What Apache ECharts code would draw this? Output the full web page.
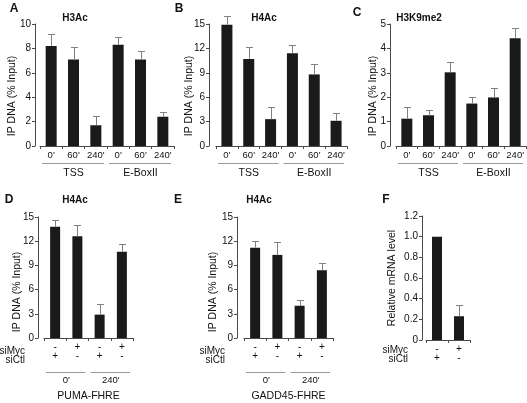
<!DOCTYPE html>
<html><head><meta charset="utf-8">
<script src="https://cdn.jsdelivr.net/npm/echarts@6/dist/echarts.min.js"></script>
<style>html,body{margin:0;padding:0;background:#fff}#c{width:527px;height:403px}</style>
</head><body><div id="c"></div>
<script>
// ---------- data ----------
const timeCats = ["0'", "60'", "240'", "0'", "60'", "240'"];
const siteGroups = ['TSS', 'E-BoxII'];
const h3acVals = [8.2, 7.1, 1.7, 8.3, 7.1, 2.4];
const h3acErr  = [1.0, 1.0, 0.8, 0.6, 0.65, 0.35];
const h4acVals = [14.9, 10.7, 3.3, 11.4, 8.8, 3.1];
const h4acErr  = [1.1, 1.5, 1.5, 1.0, 1.3, 1.0];
const h3k9Vals = [1.12, 1.26, 3.02, 1.74, 1.99, 4.42];
const h3k9Err  = [0.48, 0.22, 0.42, 0.27, 0.38, 0.42];
const siMycSigns = ['-', '+', '-', '+'];
const siCtlSigns = ['+', '-', '+', '-'];
const timeGroups = ["0'", "240'"];
const pumaVals = [13.8, 12.6, 2.9, 10.7];
const pumaErr  = [0.85, 1.45, 1.3, 0.95];
const gaddVals = [11.2, 10.3, 4.0, 8.4];
const gaddErr  = [0.85, 1.55, 0.75, 0.95];
const mrnaSiMyc = ['-', '+'];
const mrnaSiCtl = ['+', '-'];
const mrnaVals = [1.0, 0.23];
const mrnaErr  = [0, 0.11];

// ---------- styles / layout ----------
const FONT = '"Liberation Sans", Arial, Helvetica, sans-serif';
const INK = '#1a1a1a';
const TXT = '#111';
const AXIS = '#4a4a4a';
const ERR = '#808080';
const ULINE = '#9a9a9a';

const panels = [
  {letter:'A', title:'H3Ac', yName:'IP DNA (% Input)', kind:'time', cats:timeCats, groups:siteGroups, vals:h3acVals, errs:h3acErr, max:10, interval:2,
   L:{left:40, top:24, width:134, height:122, yOffset:5, barWidth:11, letter:[14,9], title:[75,18], yNameXY:[12,96], uline:17}},
  {letter:'B', title:'H4Ac', yName:'IP DNA (% Input)', kind:'time', cats:timeCats, groups:siteGroups, vals:h4acVals, errs:h4acErr, max:15, interval:3,
   L:{left:216, top:24, width:131, height:122, yOffset:7, barWidth:11, letter:[179,9], title:[264,18], yNameXY:[189,96], uline:17}},
  {letter:'C', title:'H3K9me2', yName:'IP DNA (% Input)', kind:'time', cats:timeCats, groups:siteGroups, vals:h3k9Vals, errs:h3k9Err, max:5, interval:1,
   L:{left:396, top:24, width:130, height:122, yOffset:6, barWidth:11, letter:[357,13], title:[419,18], yNameXY:[373,96], uline:17}},
  {letter:'D', title:'H4Ac', yName:'IP DNA (% Input)', kind:'si', top:siMycSigns, bottom:siCtlSigns, groups:timeGroups, name:'PUMA-FHRE', vals:pumaVals, errs:pumaErr, max:15, interval:3,
   L:{left:44, top:217, width:89, height:124, yOffset:6, barWidth:10, letter:[9,200], title:[75,200], yNameXY:[17,292], uline:31, siX:25}},
  {letter:'E', title:'H4Ac', yName:'IP DNA (% Input)', kind:'si', top:siMycSigns, bottom:siCtlSigns, groups:timeGroups, name:'GADD45-FHRE', vals:gaddVals, errs:gaddErr, max:15, interval:3,
   L:{left:244, top:217, width:89, height:124, yOffset:7, barWidth:10, letter:[178,200], title:[259,200], yNameXY:[213,292], uline:31, siX:225}},
  {letter:'F', title:'', yName:'Relative mRNA level', kind:'si', top:mrnaSiMyc, bottom:mrnaSiCtl, groups:null, name:null, vals:mrnaVals, errs:mrnaErr, max:1.2, interval:0.2,
   L:{left:426, top:216, width:44, height:124, yOffset:4, barWidth:10, letter:[386,200], title:[0,0], yNameXY:[392,278], uline:0, siX:408}}
];

function errRender(params, api) {
  const x = api.value(0), v = api.value(1), e = api.value(2);
  const p0 = api.coord([x, v]);
  const p1 = api.coord([x, v + e]);
  const half = 3.5;
  const cx = Math.round(p0[0]) + 0.5;
  const ty = Math.round(p1[1]) + 0.5;
  return {type:'group', children:[
    {type:'line', shape:{x1:cx, y1:p0[1], x2:cx, y2:ty}, style:{stroke:ERR, lineWidth:1}},
    {type:'line', shape:{x1:cx-half, y1:ty, x2:cx+half, y2:ty}, style:{stroke:ERR, lineWidth:1}}
  ]};
}

const grid = [], xAxis = [], yAxis = [], series = [], graphic = [];
panels.forEach((p, i) => {
  const L = p.L;
  grid.push({left:L.left, top:L.top, width:L.width, height:L.height, containLabel:false});
  const mainIdx = xAxis.length;
  const labels = p.kind === 'time' ? p.cats : p.top.map((s, k) => s + '\n' + p.bottom[k]);
  xAxis.push({
    gridIndex:i, type:'category', data:labels, position:'bottom',
    axisLine:{show:true, lineStyle:{color:AXIS, width:1}},
    axisTick:{show:true, length:3, lineStyle:{color:AXIS}},
    axisLabel:{interval:0, margin: p.kind === 'time' ? 4 : 5, fontSize: p.kind === 'time' ? 9.5 : 10,
      lineHeight: p.kind === 'time' ? 10 : 9, color:TXT, fontFamily:FONT},
    splitLine:{show:false}
  });
  if (p.groups) {
    const ax = {
      gridIndex:i, type:'category', data:p.groups, position:'bottom',
      offset: p.kind === 'time' ? 18 : 33,
      axisLine:{show:false}, axisTick:{show:false},
      axisLabel:{interval:0, margin:4, fontSize: p.kind === 'time' ? 10.5 : 9.5, color:TXT, fontFamily:FONT},
      splitLine:{show:false}
    };
    if (p.name) {
      ax.name = p.name; ax.nameLocation = 'middle'; ax.nameGap = 20;
      ax.nameTextStyle = {fontSize:10.5, color:TXT, fontFamily:FONT};
    }
    xAxis.push(ax);
    // group underlines
    const n = p.groups.length, bw = L.width / n, y = L.top + L.height + L.uline + 0.5;
    for (let g = 0; g < n; g++) {
      graphic.push({type:'line', silent:true,
        shape:{x1:L.left + g*bw + 2, y1:y, x2:L.left + (g+1)*bw - 3, y2:y},
        style:{stroke:ULINE, lineWidth:1}});
    }
  }
  yAxis.push({
    gridIndex:i, type:'value', min:0, max:p.max, interval:p.interval, offset:L.yOffset,
    axisLine:{show:true, lineStyle:{color:AXIS, width:1}},
    axisTick:{show:true, length:3, lineStyle:{color:AXIS}},
    axisLabel:{margin:4, fontSize:10, color:TXT, fontFamily:FONT,
      formatter: v => (p.interval < 1 ? (v === 0 ? '0' : v.toFixed(1)) : String(v))},
    splitLine:{show:false}
  });
  series.push({type:'bar', xAxisIndex:mainIdx, yAxisIndex:i, data:p.vals, barWidth:L.barWidth,
    itemStyle:{color:INK}, silent:true, animation:false});
  series.push({type:'custom', xAxisIndex:mainIdx, yAxisIndex:i, clip:false, z:5, silent:true, animation:false,
    data:p.vals.map((v, k) => [k, v, p.errs[k]]).filter(d => d[2] > 0),
    encode:{x:0, y:1}, renderItem:errRender});

  // texts
  graphic.push({type:'text', x:L.letter[0], y:L.letter[1], silent:true,
    style:{text:p.letter, font:'bold 12px ' + FONT, fill:'#111', align:'center', verticalAlign:'middle'}});
  if (p.title) graphic.push({type:'text', x:L.title[0], y:L.title[1], silent:true,
    style:{text:p.title, font:'bold 10px ' + FONT, fill:'#111', align:'center', verticalAlign:'middle'}});
  graphic.push({type:'text', x:L.yNameXY[0], y:L.yNameXY[1], rotation:Math.PI/2, silent:true,
    style:{text:p.yName, font:'10.5px ' + FONT, fill:TXT, align:'center', verticalAlign:'middle'}});
  if (p.kind === 'si') {
    const base = L.top + L.height;
    graphic.push({type:'text', x:L.siX, y:base + 10, silent:true,
      style:{text:'siMyc', font:'10px ' + FONT, fill:TXT, align:'right', verticalAlign:'middle'}});
    graphic.push({type:'text', x:L.siX, y:base + 19, silent:true,
      style:{text:'siCtl', font:'10px ' + FONT, fill:TXT, align:'right', verticalAlign:'middle'}});
  }
});

const chart = echarts.init(document.getElementById('c'), null, {renderer:'canvas'});
chart.setOption({animation:false, backgroundColor:'#fff', textStyle:{fontFamily:FONT},
  grid, xAxis, yAxis, series, graphic});
</script></body></html>
